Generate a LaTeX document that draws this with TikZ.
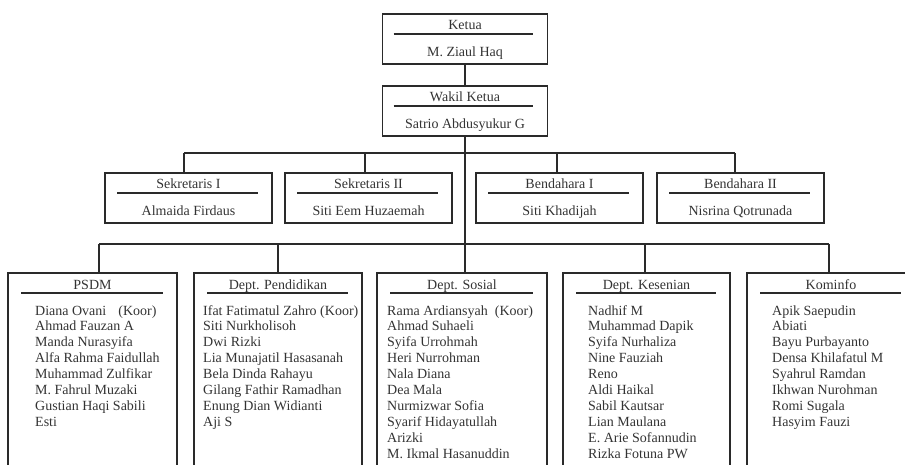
\documentclass[tikz,border=0pt]{standalone}
\usepackage{fontspec}
\setmainfont{Liberation Serif}
\usepackage{xcolor}
\usepackage{tikz}

\definecolor{tinta}{HTML}{333333}
\definecolor{garis}{HTML}{2A2A2A}

\begin{document}
\begin{tikzpicture}[x=1pt,y=-1pt,
    kotak/.style={draw=garis, line width=1.6pt, inner sep=0pt, minimum height=50pt, anchor=north},
    bidang/.style={draw=garis, line width=1.6pt, inner sep=0pt, minimum height=240pt, anchor=north},
    pemisah/.style={draw=garis, line width=1.8pt},
    sambung/.style={draw=garis, line width=1.5pt},
    teks/.style={text=tinta, font=\fontsize{14pt}{16pt}\selectfont, inner sep=0pt}]
    \useasboundingbox (0,0) rectangle (905,465);
    \clip (0,0) rectangle (905,465);
    % Ketua
    \node[kotak, minimum width=165pt] (ketua) at (465,13) {};
    \node[teks, anchor=base] (ketuaJ) at ([yshift=-17pt]ketua.north) {Ketua};
    \draw[pemisah] ([xshift=12pt,yshift=-21pt]ketua.north west) -- ([xshift=-15pt,yshift=-21pt]ketua.north east);
    \node[teks, anchor=base] (ketuaN) at ([yshift=-43.5pt]ketua.north) {M. Ziaul Haq};
    % Wakil ketua
    \node[kotak, minimum width=165pt] (wakil) at (465,85) {};
    \node[teks, anchor=base] (wakilJ) at ([yshift=-17pt]wakil.north) {Wakil Ketua};
    \draw[pemisah] ([xshift=12pt,yshift=-21pt]wakil.north west) -- ([xshift=-15pt,yshift=-21pt]wakil.north east);
    \node[teks, anchor=base] (wakilN) at ([yshift=-43.5pt]wakil.north) {Satrio Abdusyukur G};
    \draw[sambung] (ketua.south) -- (wakil.north);
    % Sekretaris dan bendahara
    \foreach \nama/\cx/\tx/\judul/\isi in {sekA/188.5/184/Sekretaris I/Almaida Firdaus,
        sekB/368.5/365/Sekretaris II/Siti Eem Huzaemah,
        benA/559.5/557/Bendahara I/Siti Khadijah,
        benB/740.5/735/Bendahara II/Nisrina Qotrunada}{
      \node[kotak, minimum width=167pt] (\nama) at (\cx,172) {};
      \node[teks, anchor=base] (\nama J) at ([yshift=-17pt]\nama.north) {\judul};
      \draw[pemisah] ([xshift=13pt,yshift=-21pt]\nama.north west) -- ([xshift=-15pt,yshift=-21pt]\nama.north east);
      \node[teks, anchor=base] (\nama N) at ([yshift=-43.5pt]\nama.north) {\isi};
      \coordinate (t\nama) at (\tx,153);
      \draw[sambung] (t\nama) -- (t\nama |- \nama.north);
    }
    \draw[sambung] (tsekA) -- (tbenB);
    % Departemen
    \foreach \nama/\cx/\lebar/\tx/\lx/\judul/\isi in {
        psdm/92.5/169/99/35/PSDM/{Diana Ovani\hspace{12pt}(Koor),Ahmad Fauzan A,Manda Nurasyifa,Alfa Rahma Faidullah,Muhammad Zulfikar,M. Fahrul Muzaki,Gustian Haqi Sabili,Esti},
        pendidikan/278/168/278/203/Dept. Pendidikan/{Ifat Fatimatul Zahro (Koor),Siti Nurkholisoh,Dwi Rizki,Lia Munajatil Hasasanah,Bela Dinda Rahayu,Gilang Fathir Ramadhan,Enung Dian Widianti,Aji S},
        sosial/462/170/465/387/Dept. Sosial/{Rama Ardiansyah\hspace{7pt}(Koor),Ahmad Suhaeli,Syifa Urrohmah,Heri Nurrohman,Nala Diana,Dea Mala,Nurmizwar Sofia,Syarif Hidayatullah,Arizki,M. Ikmal Hasanuddin},
        kesenian/646.5/167/645/588/Dept. Kesenian/{Nadhif M,Muhammad Dapik,Syifa Nurhaliza,Nine Fauziah,Reno,Aldi Haikal,Sabil Kautsar,Lian Maulana,E. Arie Sofannudin,Rizka Fotuna PW},
        kominfo/831/168/829/772/Kominfo/{Apik Saepudin,Abiati,Bayu Purbayanto,Densa Khilafatul M,Syahrul Ramdan,Ikhwan Nurohman,Romi Sugala,Hasyim Fauzi}}{
      \node[bidang, minimum width=\lebar pt] (\nama) at (\cx,272) {};
      \node[teks, anchor=base] (\nama J) at ([yshift=-17pt]\nama.north) {\judul};
      \draw[pemisah] ([xshift=14pt,yshift=-21pt]\nama.north west) -- ([xshift=-15pt,yshift=-21pt]\nama.north east);
      \foreach \n [count=\i] in \isi
        \node[teks, anchor=base west] (\nama-\i) at (\lx,{315+15.9*(\i-1)}) {\n};
      \coordinate (t\nama) at (\tx,244);
      \draw[sambung] (t\nama) -- (t\nama |- \nama.north);
    }
    \draw[sambung] (tpsdm) -- (tkominfo);
    \draw[sambung] (wakil.south) -- (wakil.south |- tsosial);
\end{tikzpicture}
\end{document}
